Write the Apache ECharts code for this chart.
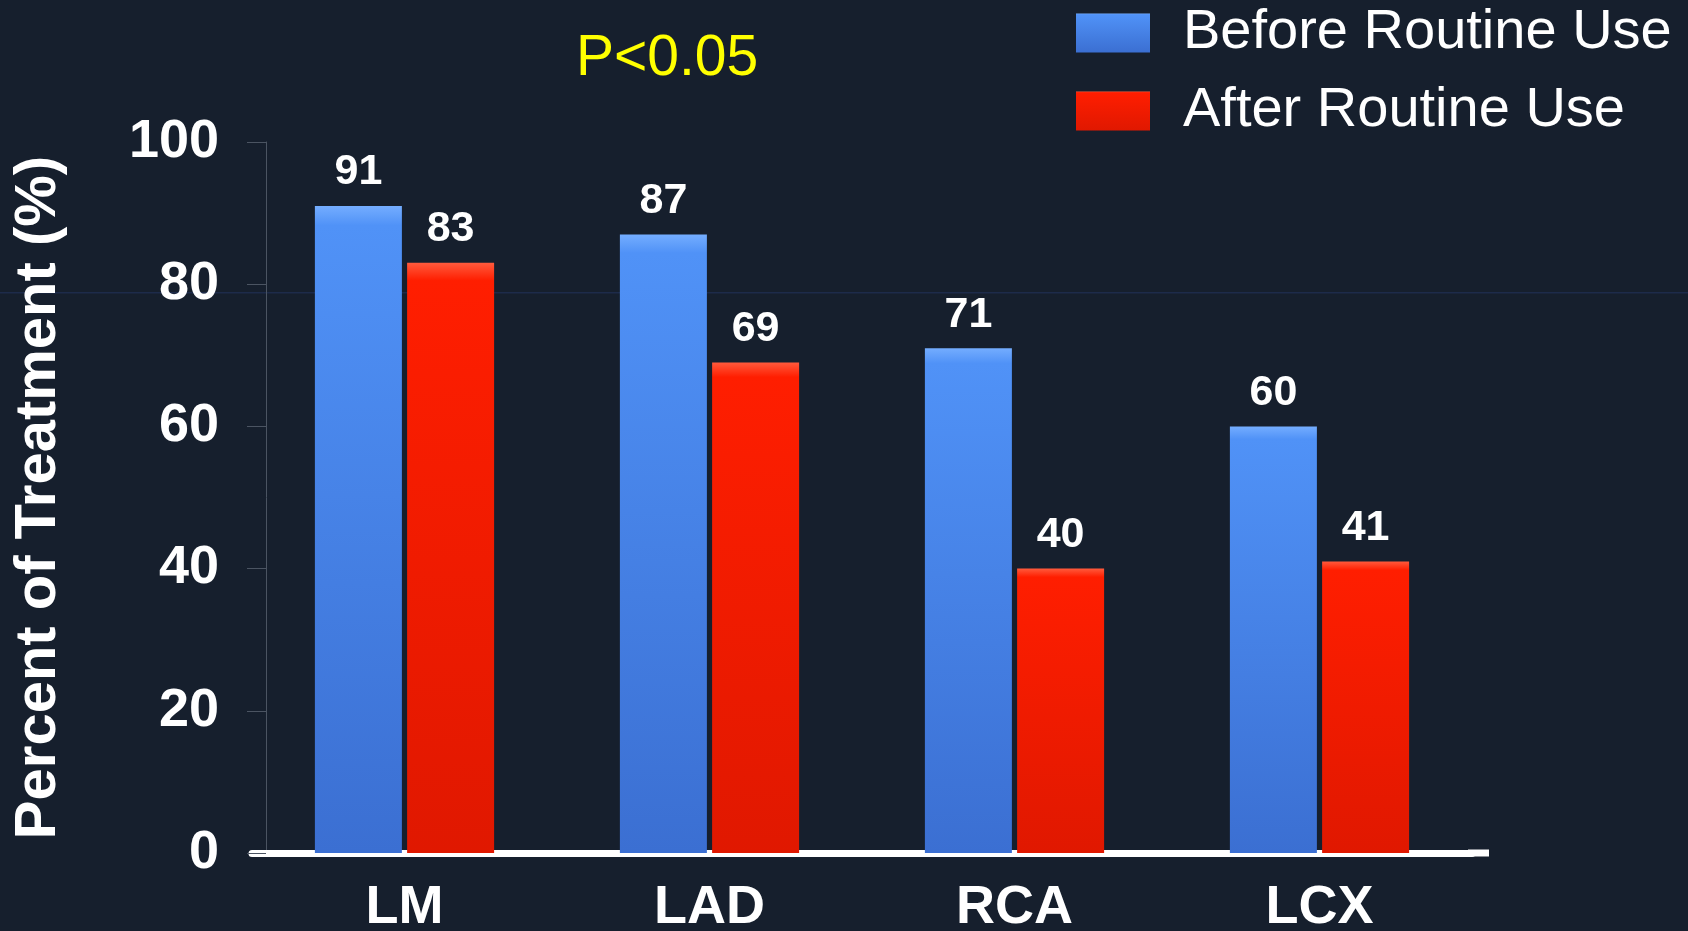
<!DOCTYPE html>
<html>
<head>
<meta charset="utf-8">
<script src="https://cdn.jsdelivr.net/npm/echarts@6/dist/echarts.min.js"></script>
<style>
html,body{margin:0;padding:0;background:#161f2d;}
#c{width:1688px;height:931px;}
</style>
</head>
<body>
<div id="c"></div>
<script>
const categories = ['LM', 'LAD', 'RCA', 'LCX'];
const beforeValues = [91, 87, 71, 60];
const afterValues = [83, 69, 40, 41];
const seriesNames = ['Before Routine Use', 'After Routine Use'];
const yTicks = [0, 20, 40, 60, 80, 100];
const yAxisTitle = 'Percent of Treatment (%)';
const annotation = 'P<0.05';

const FONT = '"Liberation Sans", Arial, sans-serif';

const blueFill = new echarts.graphic.LinearGradient(0, 0, 0, 1, [
  {offset: 0, color: '#74adff'},
  {offset: 0.03, color: '#5092f7'},
  {offset: 1, color: '#3b6fd2'}
]);
const redFill = new echarts.graphic.LinearGradient(0, 0, 0, 1, [
  {offset: 0, color: '#ff5a3c'},
  {offset: 0.03, color: '#ff1e00'},
  {offset: 1, color: '#e01800'}
]);

const chart = echarts.init(document.getElementById('c'), null, {renderer: 'canvas'});

const labelCfg = {
  show: true,
  position: 'top',
  distance: 12,
  color: '#ffffff',
  fontFamily: FONT,
  fontWeight: 'bold',
  fontSize: 43
};

chart.setOption({
  backgroundColor: '#161f2d',
  animation: false,
  graphic: [
    {
      type: 'rect',
      silent: true,
      z: -1,
      shape: {x: 0, y: 292, width: 1688, height: 1.5},
      style: {fill: '#1d2b4a'}
    },
    {
      type: 'rect',
      silent: true,
      shape: {x: 1468, y: 849.5, width: 21, height: 7},
      style: {fill: '#ffffff'}
    },
    {
      type: 'text',
      left: 576,
      top: 31,
      style: {
        text: annotation,
        fill: '#ffff00',
        font: '57px ' + FONT
      }
    }
  ],
  legend: {
    orient: 'vertical',
    left: 1071,
    top: 0,
    itemWidth: 74,
    itemHeight: 39,
    itemGap: 22,
    icon: 'rect',
    textStyle: {
      color: '#ffffff',
      fontFamily: FONT,
      fontSize: 56,
      padding: [0, 0, 0, 28]
    },
    data: seriesNames
  },
  grid: {
    left: 252,
    right: 216,
    top: 142,
    bottom: 78,
    containLabel: false,
    outerBoundsMode: 'none'
  },
  xAxis: {
    type: 'category',
    data: categories,
    axisLine: {show: true, lineStyle: {color: '#ffffff', width: 7}},
    axisTick: {show: false},
    axisLabel: {
      color: '#ffffff',
      fontFamily: FONT,
      fontWeight: 'bold',
      fontSize: 54,
      margin: 28
    },
    splitLine: {show: false}
  },
  yAxis: {
    type: 'value',
    min: yTicks[0],
    max: yTicks[yTicks.length - 1],
    interval: 20,
    offset: -14,
    name: yAxisTitle,
    nameLocation: 'middle',
    nameGap: 198,
    nameTextStyle: {
      color: '#ffffff',
      fontFamily: FONT,
      fontWeight: 'bold',
      fontSize: 58
    },
    axisLine: {show: true, lineStyle: {color: '#4b5462', width: 1}},
    axisTick: {show: true, inside: false, length: 19, lineStyle: {color: '#4b5462', width: 1}},
    axisLabel: {
      color: '#ffffff',
      fontFamily: FONT,
      fontWeight: 'bold',
      fontSize: 54,
      margin: 47
    },
    splitLine: {show: false}
  },
  series: [
    {
      name: seriesNames[0],
      type: 'bar',
      data: beforeValues,
      barWidth: 87,
      barGap: '6%',
      itemStyle: {color: blueFill},
      label: labelCfg
    },
    {
      name: seriesNames[1],
      type: 'bar',
      data: afterValues,
      barWidth: 87,
      barGap: '6%',
      itemStyle: {color: redFill},
      label: labelCfg
    }
  ]
});
</script>
</body>
</html>
